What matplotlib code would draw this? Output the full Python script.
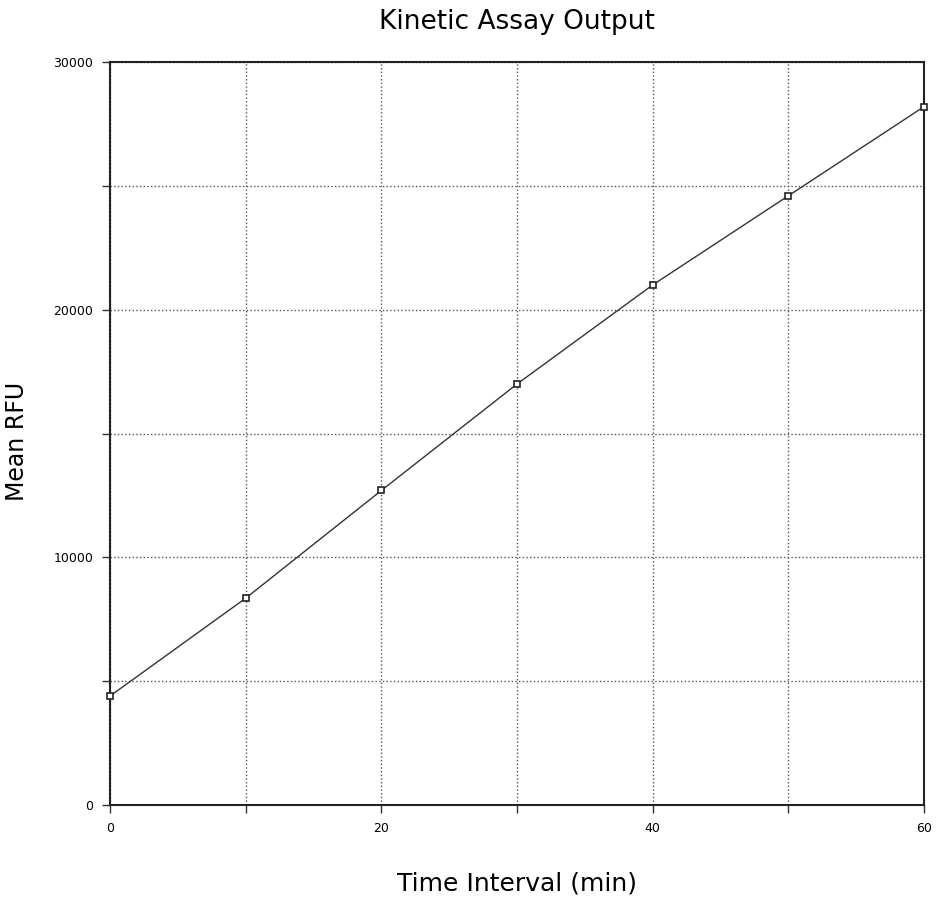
import numpy as np
from matplotlib import pyplot as plt

time_min = np.array([0, 10, 20, 30, 40, 50, 60])
mean_rfu = np.array([4400, 8350, 12700, 17000, 21000, 24600, 28200])

x_ticks = np.arange(0, 61, 10)
x_labels = ['0', '', '20', '', '40', '', '60']
y_ticks = np.arange(0, 30001, 5000)
y_labels = ['0', '', '10000', '', '20000', '', '30000']

fig = plt.figure(figsize=(9.43, 9.01), dpi=100)
ax = fig.add_axes([0.1166, 0.1065, 0.8634, 0.8247])

ax.plot(time_min, mean_rfu, color='#333333', linewidth=1.0, marker='s',
        markersize=5, markerfacecolor='white', markeredgecolor='#222222',
        markeredgewidth=1.2, clip_on=False, zorder=3)

ax.set_xlim(0, 60)
ax.set_ylim(0, 30000)
ax.set_xticks(x_ticks)
ax.set_xticklabels(x_labels)
ax.set_yticks(y_ticks)
ax.set_yticklabels(y_labels)
ax.tick_params(labelsize=9, length=6, width=1, pad=6, color='#333333')
ax.grid(True, linestyle=':', color='#555555', linewidth=1.0)
for s in ax.spines.values():
    s.set_linewidth(1.5)
    s.set_color('#222222')

ax.set_title('Kinetic Assay Output', fontsize=19, pad=24)
ax.set_xlabel('Time Interval (min)', fontsize=18)
ax.set_ylabel('Mean RFU', fontsize=17)
ax.xaxis.set_label_coords(0.5, -0.09)
ax.yaxis.set_label_coords(-0.1, 0.49)

fig.savefig('out.png', dpi=100)
